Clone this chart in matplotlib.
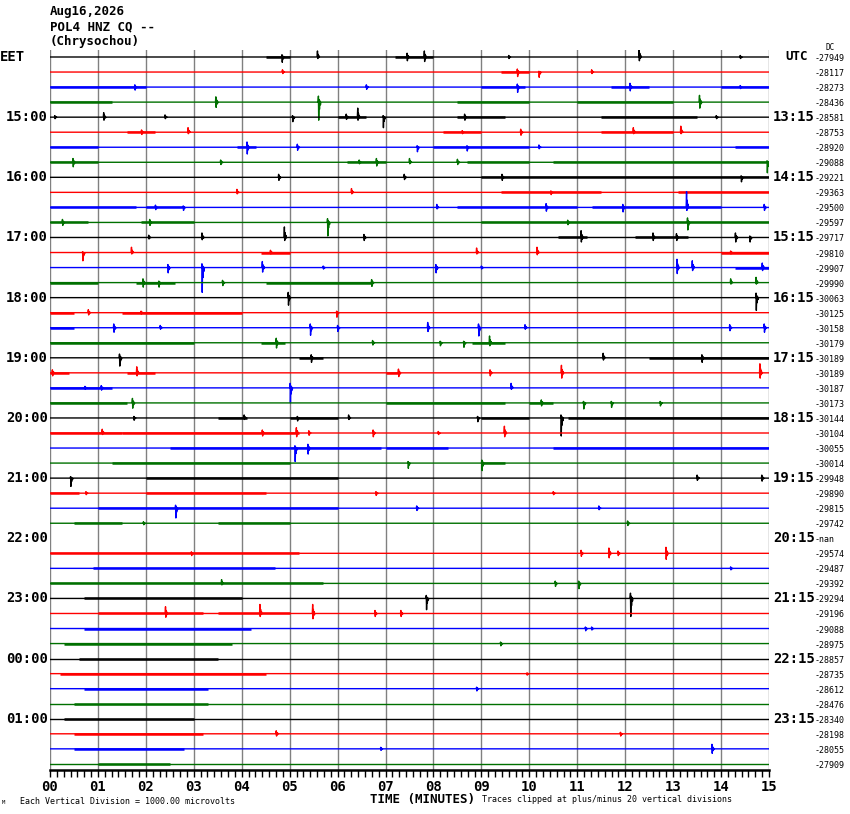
import numpy as np
import matplotlib
matplotlib.use("Agg")
import matplotlib.pyplot as plt

W, H = 850, 814

# ---------------- data ----------------
title_lines = ["Aug16,2026", "POL4 HNZ CQ --", "(Chrysochou)"]
left_labels = ["EET", "15:00", "16:00", "17:00", "18:00", "19:00", "20:00",
               "21:00", "22:00", "23:00", "00:00", "01:00"]
right_labels = ["UTC", "13:15", "14:15", "15:15", "16:15", "17:15", "18:15",
                "19:15", "20:15", "21:15", "22:15", "23:15"]
offsets = [-27949, -28117, -28273, -28436, -28581, -28753, -28920, -29088,
           -29221, -29363, -29500, -29597, -29717, -29810, -29907, -29990,
           -30063, -30125, -30158, -30179, -30189, -30189, -30187, -30173,
           -30144, -30104, -30055, -30014, -29948, -29890, -29815, -29742,
           None, -29574, -29487, -29392, -29294, -29196, -29088, -28975,
           -28857, -28735, -28612, -28476, -28340, -28198, -28055, -27909]
trace_colors = ["#000000", "#ff0000", "#0000ff", "#007000"]
minute_labels = ["00", "01", "02", "03", "04", "05", "06", "07", "08",
                 "09", "10", "11", "12", "13", "14", "15"]

# seismic events: row, minute, upward amplitude, downward amplitude (trace spacings)
ev_row = [0, 0, 0, 0, 0, 0, 0,
          1, 1, 1, 1,
          2, 2, 2, 2, 2,
          3, 3, 3,
          4, 4, 4, 4, 4, 4, 4, 4, 4,
          5, 5, 5, 5, 5, 5,
          6, 6, 6, 6, 6,
          7, 7, 7, 7, 7, 7, 7,
          8, 8, 8, 8,
          9, 9, 9,
          10, 10, 10, 10, 10, 10, 10,
          11, 11, 11, 11, 11,
          12, 12, 12, 12, 12, 12, 12, 12, 12,
          13, 13, 13, 13, 13, 13,
          14, 14, 14, 14, 14, 14, 14, 14, 14,
          15, 15, 15, 15, 15, 15,
          16, 16,
          17, 17, 17,
          18, 18, 18, 18, 18, 18, 18, 18, 18,
          19, 19, 19, 19, 19,
          20, 20, 20, 20,
          21, 21, 21, 21, 21, 21,
          22, 22, 22, 22,
          23, 23, 23, 23, 23,
          24, 24, 24, 24, 24, 24,
          25, 25, 25, 25, 25, 25, 25,
          26, 26,
          27, 27,
          28, 28, 28,
          29, 29, 29,
          30, 30, 30,
          31, 31,
          33, 33, 33, 33, 33,
          34,
          35, 35, 35,
          36, 36,
          37, 37, 37, 37, 37,
          38, 38,
          39,
          41,
          42,
          45, 45,
          46, 46]
ev_min = [4.84, 5.58, 7.45, 7.81, 9.57, 12.29, 14.4,
          4.85, 9.75, 10.2, 11.3,
          1.77, 6.6, 9.75, 12.1, 14.4,
          3.46, 5.6, 13.55,
          0.1, 1.12, 2.4, 5.06, 6.18, 6.42, 6.95, 8.65, 13.9,
          1.91, 2.88, 8.6, 9.82, 12.17, 13.16,
          4.11, 5.16, 7.66, 8.7, 10.2,
          0.48, 3.56, 6.45, 6.81, 7.5, 8.5, 14.96,
          4.77, 7.39, 9.43, 14.42,
          3.9, 6.29, 10.45,
          2.2, 2.78, 8.07, 10.35, 11.95, 13.28, 14.9,
          0.26, 2.08, 5.79, 10.8, 13.3,
          2.06, 3.17, 4.89, 6.55, 11.08, 12.58, 13.07, 14.3, 14.6,
          0.68, 1.7, 4.6, 8.9, 10.16, 14.2,
          2.46, 3.17, 4.43, 5.7, 8.05, 9.0, 13.08, 13.4, 14.86,
          1.94, 2.27, 3.6, 6.71, 14.2, 14.73,
          4.97, 14.73,
          0.8, 1.9, 5.98,
          1.33, 2.3, 5.43, 6.0, 7.88, 8.94, 9.91, 14.18, 14.9,
          4.72, 6.73, 8.14, 8.63, 9.17,
          1.45, 5.45, 11.54, 13.6,
          0.05, 1.81, 7.27, 9.18, 10.67, 14.81,
          0.73, 1.07, 5.01, 9.62,
          1.72, 10.25, 11.13, 11.71, 12.73,
          1.75, 4.05, 5.16, 6.23, 8.92, 10.66,
          1.09, 4.43, 5.14, 5.4, 6.74, 8.1, 9.48,
          5.11, 5.38,
          7.47, 9.01,
          0.43, 13.5, 14.85,
          0.75, 6.8, 10.5,
          2.62, 7.65, 11.45,
          1.95, 12.05,
          2.95, 11.08, 11.66, 11.85, 12.85,
          14.2,
          3.58, 10.54, 11.03,
          7.85, 12.11,
          2.41, 4.38, 5.48, 6.78, 7.32,
          11.17, 11.3,
          9.4,
          9.95,
          8.9,
          4.72, 11.9,
          6.9, 13.81]
ev_up = [0.15, 0.4, 0.25, 0.4, 0.1, 0.55, 0.1,
         0.15, 0.2, 0.05, 0.15,
         0.15, 0.15, 0.2, 0.25, 0.1,
         0.35, 0.4, 0.45,
         0.1, 0.3, 0.15, 0.1, 0.2, 0.6, 0.1, 0.2, 0.1,
         0.15, 0.3, 0.1, 0.2, 0.3, 0.4,
         0.35, 0.2, 0.1, 0.1, 0.15,
         0.25, 0.15, 0.15, 0.25, 0.25, 0.2, 0.1,
         0.2, 0.2, 0.2, 0.1,
         0.2, 0.25, 0.1,
         0.15, 0.1, 0.2, 0.25, 0.2, 1.05, 0.2,
         0.2, 0.2, 0.25, 0.15, 0.3,
         0.15, 0.3, 0.7, 0.2, 0.45, 0.3, 0.25, 0.3, 0.1,
         0.05, 0.35, 0.15, 0.3, 0.35, 0.1,
         0.2, 0.25, 0.4, 0.1, 0.2, 0.1, 0.55, 0.45, 0.3,
         0.25, 0.1, 0.15, 0.2, 0.25, 0.35,
         0.35, 0.3,
         0.2, 0.1, 0.1,
         0.25, 0.15, 0.25, 0.15, 0.35, 0.25, 0.2, 0.2, 0.25,
         0.3, 0.15, 0.1, 0.1, 0.45,
         0.25, 0.2, 0.3, 0.2,
         0.2, 0.4, 0.25, 0.2, 0.5, 0.6,
         0.1, 0.15, 0.3, 0.3,
         0.3, 0.2, 0.1, 0.1, 0.1,
         0.1, 0.2, 0.1, 0.2, 0.1, 0.2,
         0.25, 0.2, 0.35, 0.15, 0.2, 0.1, 0.45,
         0.15, 0.25,
         0.1, 0.2,
         0.1, 0.2, 0.2,
         0.1, 0.1, 0.1,
         0.2, 0.15, 0.15,
         0.1, 0.15,
         0.1, 0.2, 0.35, 0.15, 0.4,
         0.1,
         0.25, 0.15, 0.15,
         0.2, 0.35,
         0.45, 0.6, 0.6, 0.2, 0.2,
         0.1, 0.1,
         0.1,
         0.05,
         0.1,
         0.2, 0.1,
         0.1, 0.3]
ev_dn = [0.35, 0.1, 0.25, 0.3, 0.1, 0.25, 0.1,
         0.1, 0.3, 0.35, 0.1,
         0.2, 0.15, 0.35, 0.25, 0.1,
         0.35, 1.2, 0.4,
         0.1, 0.2, 0.1, 0.3, 0.15, 0.2, 0.7, 0.2, 0.1,
         0.15, 0.1, 0.1, 0.2, 0.1, 0.1,
         0.45, 0.2, 0.3, 0.25, 0.1,
         0.3, 0.15, 0.1, 0.25, 0.1, 0.15, 0.7,
         0.2, 0.15, 0.2, 0.3,
         0.1, 0.1, 0.15,
         0.15, 0.2, 0.1, 0.25, 0.3, 0.2, 0.2,
         0.2, 0.2, 0.9, 0.15, 0.5,
         0.1, 0.15, 0.2, 0.2, 0.3, 0.2, 0.2, 0.3, 0.3,
         0.55, 0.1, 0.1, 0.1, 0.15, 0.1,
         0.35, 1.65, 0.3, 0.1, 0.35, 0.1, 0.4, 0.2, 0.2,
         0.3, 0.3, 0.2, 0.25, 0.1, 0.1,
         0.5, 0.85,
         0.15, 0.1, 0.3,
         0.3, 0.1, 0.5, 0.25, 0.25, 0.55, 0.1, 0.2, 0.3,
         0.35, 0.15, 0.2, 0.3, 0.2,
         0.55, 0.3, 0.15, 0.3,
         0.2, 0.2, 0.25, 0.2, 0.35, 0.35,
         0.1, 0.15, 1.0, 0.1,
         0.35, 0.2, 0.4, 0.3, 0.2,
         0.15, 0.1, 0.2, 0.1, 0.25, 1.2,
         0.1, 0.2, 0.25, 0.15, 0.25, 0.1, 0.25,
         0.9, 0.4,
         0.35, 0.5,
         0.55, 0.15, 0.2,
         0.1, 0.15, 0.1,
         0.65, 0.15, 0.1,
         0.1, 0.15,
         0.15, 0.2, 0.3, 0.15, 0.4,
         0.1,
         0.1, 0.2, 0.35,
         0.75, 1.2,
         0.25, 0.2, 0.35, 0.2, 0.2,
         0.15, 0.1,
         0.15,
         0.1,
         0.15,
         0.15, 0.15,
         0.1, 0.3]

# segments with denser background noise: row, start minute, end minute
nz_row = [0, 0, 1, 2, 2, 2, 2, 3, 3, 3, 4, 4, 4, 5, 5, 5, 6, 6, 6, 6,
          7, 7, 7, 7, 8, 9, 9, 10, 10, 10, 10, 11, 11, 11, 12, 12, 13, 13,
          14, 15, 15, 15, 17, 17, 18, 19, 19, 19, 20, 20, 21, 21, 21, 22,
          23, 23, 23, 24, 24, 24, 24, 25, 25, 26, 26, 26, 26, 27, 27, 28,
          29, 29, 30, 30, 31, 31, 33, 34, 35, 36, 37, 37, 38, 39, 40, 41,
          42, 43, 44, 45, 46, 47]
nz_start = [4.5, 7.2, 9.4, 0.0, 9.0, 11.7, 14.0, 0.0, 8.5, 11.0, 6.0, 8.5, 11.5,
            1.6, 8.2, 11.5, 0.0, 3.9, 8.0, 14.3,
            0.0, 6.2, 8.7, 10.5, 9.0, 9.4, 13.1, 0.0, 2.0, 8.5, 11.3, 0.0, 1.9, 9.0,
            10.6, 12.2, 4.4, 14.0,
            14.3, 0.0, 1.8, 4.5, 0.0, 1.5, 0.0, 0.0, 4.4, 8.8, 5.2, 12.5,
            0.0, 1.6, 7.0, 0.0,
            0.0, 7.0, 10.0, 3.5, 5.0, 9.0, 10.8, 0.0, 1.5, 2.5, 5.0, 7.0, 10.5,
            1.3, 9.0, 2.0,
            0.0, 2.0, 1.0, 4.0, 0.5, 3.5, 0.0, 0.9, 0.0, 0.7, 1.0, 3.5, 0.7, 0.3, 0.6,
            0.2, 0.7, 0.5, 0.3, 0.5, 0.5, 1.0]
nz_end = [5.0, 8.0, 10.0, 2.0, 9.9, 12.5, 15.0, 1.3, 10.0, 13.0, 6.6, 9.5, 13.5,
          2.2, 9.0, 13.0, 1.0, 4.3, 10.0, 15.0,
          1.0, 7.0, 10.0, 15.0, 15.0, 11.5, 15.0, 1.8, 2.8, 11.0, 14.0, 0.8, 3.0, 15.0,
          11.2, 13.3, 5.0, 15.0,
          15.0, 1.0, 2.6, 6.7, 0.5, 4.0, 0.5, 3.0, 4.9, 9.5, 5.7, 15.0,
          0.4, 2.2, 7.3, 1.3,
          1.6, 9.5, 10.5, 4.1, 6.0, 10.0, 15.0, 1.5, 5.2, 5.0, 6.9, 8.3, 15.0,
          5.0, 9.5, 6.0,
          0.6, 4.5, 4.0, 6.0, 1.5, 5.0, 5.2, 4.7, 5.7, 4.0, 3.2, 5.0, 4.2, 3.8, 3.5,
          4.5, 3.3, 3.3, 3.0, 3.2, 2.8, 2.5]

# wavelet template: (time after onset in minutes, fraction of up / down amplitude)
wav_t = [-0.008, 0.0, 0.006, 0.014, 0.022, 0.032, 0.042, 0.052]
wav_up = [0.0, 1.0, 0.0, 0.45, 0.0, 0.2, 0.0, 0.0]
wav_dn = [0.0, 0.0, 1.0, 0.0, 0.4, 0.0, 0.15, 0.0]

# ---------------- figure ----------------
fig = plt.figure(figsize=(W / 100, H / 100), dpi=100)
fig.patch.set_facecolor("white")

X0, X1, Y0, Y1 = 50, 769, 50, 770
ROW0, DROW = 57, 15.04
ax = fig.add_axes([X0 / W, 1 - Y1 / H, (X1 - X0) / W, (Y1 - Y0) / H])
ax.set_xlim(0, 15)
ax.set_ylim((Y1 - ROW0) / DROW, (Y0 - ROW0) / DROW)
for s in ax.spines.values():
    s.set_visible(False)
ax.set_xticks([])
ax.set_yticks([])

# vertical minute grid lines
for m in range(16):
    ax.axvline(m, color="#808080", lw=1.0, zorder=1)

n_rows = len(offsets)
ev_row_a = np.array(ev_row)
ev_min_a = np.array(ev_min)
ev_up_a = np.array(ev_up)
ev_dn_a = np.array(ev_dn)
wt = np.array(wav_t)
wu = np.array(wav_up)
wd = np.array(wav_dn)

for r in range(n_rows):
    if offsets[r] is None:
        continue
    col = trace_colors[r % 4]
    idx = np.where(ev_row_a == r)[0]
    idx = idx[np.argsort(ev_min_a[idx])]
    xs = [0.0]
    ys = [0.0]
    for i in idx:
        m = ev_min_a[i]
        xs.extend(list(m + wt))
        ys.extend(list(ev_up_a[i] * wu - ev_dn_a[i] * wd))
    xs.append(15.0)
    ys.append(0.0)
    xs = np.array(xs)
    ys = np.array(ys)
    ax.plot(xs, r - ys, color=col, lw=1.0, zorder=3)
    for rr, a, b in zip(nz_row, nz_start, nz_end):
        if rr == r:
            ax.plot([a, b], [r, r], color=col, lw=1.8, zorder=2,
                    solid_capstyle="butt")


def px(x, y):
    return x / W, 1 - y / H


mono = "DejaVu Sans Mono"
for k, t in enumerate(title_lines):
    fig.text(*px(50, 12 + 15 * k), t, fontsize=9, family=mono,
             ha="left", va="center", weight="bold")

for k in range(12):
    y = ROW0 + 4 * k * DROW
    if k == 0:
        fig.text(*px(0, y), left_labels[k], fontsize=10, family=mono,
                 weight="bold", ha="left", va="center")
        fig.text(*px(785, y), right_labels[k], fontsize=9, family=mono,
                 weight="bold", ha="left", va="center")
    else:
        fig.text(*px(48, y), left_labels[k], fontsize=10, family=mono,
                 weight="bold", ha="right", va="center")
        fig.text(*px(773, y), right_labels[k], fontsize=10, family=mono,
                 weight="bold", ha="left", va="center")

for r in range(n_rows):
    y = ROW0 + r * DROW
    lab = "-nan" if offsets[r] is None else str(offsets[r])
    fig.text(*px(815, y + 1.5), lab, fontsize=6, family=mono,
             ha="left", va="center")
fig.text(*px(826, 48), "DC", fontsize=5.5, family=mono, ha="left", va="center")

# bottom time axis
ax2 = fig.add_axes([X0 / W, 1 - 790 / H, (X1 - X0) / W, 20 / H])
ax2.set_xlim(0, 15)
ax2.set_ylim(20, 0)
ax2.axis("off")
ax2.plot([0, 15], [0, 0], color="black", lw=1.8, clip_on=False)
minor = np.arange(0, 15 * 7 + 1) / 7.0
ax2.vlines(minor, 0, 7, color="black", lw=1.0, clip_on=False)
for m, lab in enumerate(minute_labels):
    ax2.text(m, 17, lab, ha="center", va="center", fontsize=10,
             family=mono, weight="bold")

fig.text(*px(422, 799), "TIME (MINUTES)", fontsize=9, family=mono,
         weight="bold", ha="center", va="center")
fig.text(*px(20, 801), "Each Vertical Division = 1000.00 microvolts",
         fontsize=6, family=mono, ha="left", va="center")
fig.text(*px(482, 800), "Traces clipped at plus/minus 20 vertical divisions",
         fontsize=6, family=mono, ha="left", va="center")
fig.text(*px(2, 802), "M", fontsize=4, family=mono, ha="left", va="center")

fig.savefig("out.png", dpi=100, facecolor="white")
